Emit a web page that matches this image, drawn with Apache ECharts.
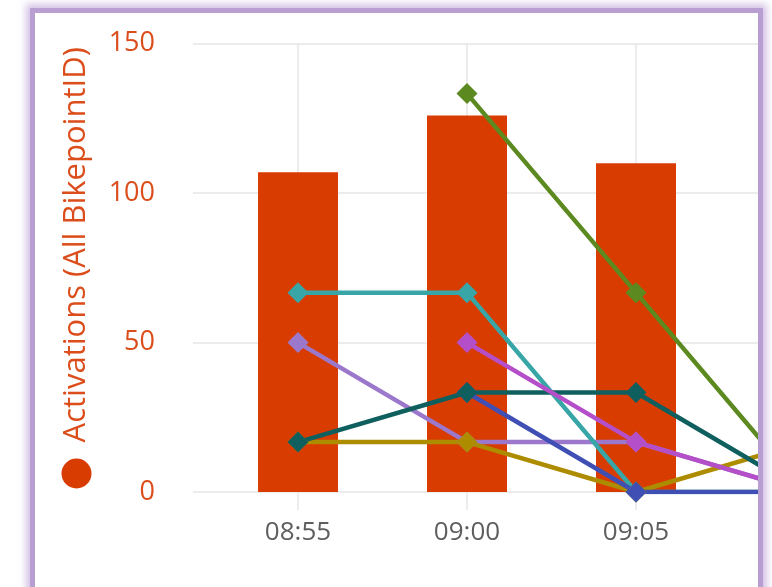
<!DOCTYPE html>
<html lang="en">
<head>
    <meta charset="UTF-8">
    <script src="https://cdn.jsdelivr.net/npm/echarts@6/dist/echarts.min.js"></script>
    <title>Activations</title>
    <style>
        body{
            margin: 0;
            background: #fff;
            overflow: hidden;
        }
        /* card frame, the chart is wider and gets clipped on the right */
        #card{
            position: absolute;
            left: 30px;
            top: 8px;
            width: 723px;
            height: 600px;
            border: 5px solid #b99fd1;
            box-shadow: 0 0 7px 4px rgba(178, 145, 210, 0.55);
            overflow: hidden;
            background: #fff;
        }
        #main{
            width: 860px;
            height: 600px;
        }
    </style>
</head>
<body>
    <div id="card"><div id="main"></div></div>
    <script>
        // time buckets
        const times = ['08:55', '09:00', '09:05', '09:10']
        // bars: Activations (All BikepointID)
        const activations = [107, 126, 110]
        // lines, one per bikepoint
        const lavender = [50, 16.7, 16.7, 0]
        const lightTeal = [66.7, 66.7, 0, 0]
        const gold = [16.7, 16.7, 0, 16.7]
        const blue = [null, 33.3, 0, 0]
        const darkTeal = [16.7, 33.3, 33.3, 0]
        const magenta = [null, 50, 16.7, 0]
        const green = [null, 133.3, 66.7, 0]
        const yTicks = [0, 50, 100, 150]

        const font = "'Segoe UI', 'Open Sans', sans-serif"

        function toMinutes(t){
            const p = t.split(':')
            return Number(p[0]) * 60 + Number(p[1])
        }
        function fmt(v){
            const h = Math.floor(v / 60), m = Math.round(v % 60)
            return String(h).padStart(2, '0') + ':' + String(m).padStart(2, '0')
        }
        const xs = times.map(toMinutes)

        function pts(vals){
            return vals.map((v, i) => [xs[i], v]).filter(p => p[1] !== null)
        }
        function line(name, vals, color){
            return {
                name: name,
                type: 'line',
                data: pts(vals),
                symbol: 'diamond',
                symbolSize: 21,
                lineStyle: { width: 4.5, color: color },
                itemStyle: { color: color },
                emphasis: { disabled: true }
            }
        }

        let myChart = echarts.init(document.getElementById('main'))
        let option = {
            animation: false,
            grid: {
                left: 158,
                top: 30.7,
                width: 679.6,
                height: 448.3
            },
            xAxis: {
                type: 'value',
                min: xs[0] - 3.107,
                max: 552,
                axisLine: { show: false },
                axisTick: {
                    show: true,
                    length: 18,
                    customValues: xs,
                    lineStyle: { color: '#e6e6e6', width: 1.5 }
                },
                axisLabel: {
                    customValues: xs,
                    formatter: fmt,
                    margin: 28,
                    color: '#605e5c',
                    fontSize: 26,
                    fontFamily: font
                },
                splitLine: {
                    show: true,
                    lineStyle: { color: '#e6e6e6', width: 1.5 }
                }
            },
            yAxis: {
                type: 'value',
                min: yTicks[0],
                max: yTicks[yTicks.length - 1],
                interval: 50,
                axisLine: { show: false },
                axisTick: { show: false },
                axisLabel: {
                    margin: 38,
                    color: '#dc4d1c',
                    fontSize: 27,
                    fontFamily: font
                },
                splitLine: {
                    lineStyle: { color: '#e6e6e6', width: 1.5 }
                },
                name: '{dot| }  Activations (All BikepointID)',
                nameLocation: 'middle',
                nameRotate: 90,
                nameGap: 101,
                nameTextStyle: {
                    color: '#dc4d1c',
                    fontSize: 31,
                    fontFamily: font,
                    rich: {
                        dot: {
                            width: 30,
                            height: 30,
                            borderRadius: 15,
                            backgroundColor: '#d93c00'
                        }
                    }
                }
            },
            series: [
                {
                    name: 'Activations (All BikepointID)',
                    type: 'bar',
                    data: activations.map((v, i) => [xs[i], v]),
                    barWidth: 80,
                    itemStyle: { color: '#d93c00' },
                    emphasis: { disabled: true }
                },
                line('Bikepoint 1', lavender, '#9b78cb'),
                line('Bikepoint 2', lightTeal, '#38a5a6'),
                line('Bikepoint 3', gold, '#ad8c00'),
                line('Bikepoint 4', blue, '#3f4fb4'),
                line('Bikepoint 5', darkTeal, '#0f5f5f'),
                line('Bikepoint 6', magenta, '#b44fc9'),
                line('Bikepoint 7', green, '#5c8a21')
            ]
        }
        myChart.setOption(option)
    </script>
</body>
</html>
